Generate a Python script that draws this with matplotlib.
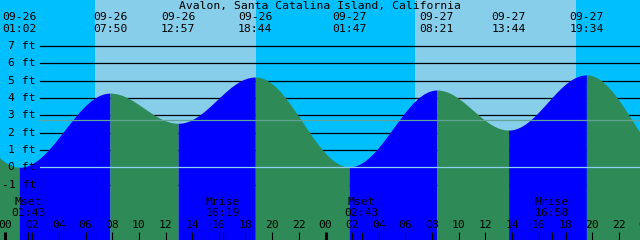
import numpy as np
import matplotlib
matplotlib.use("Agg")
import matplotlib.pyplot as plt

# ---------------- data ----------------
title = "Avalon, Santa Catalina Island, California"
# tide extremes (first and last lie just outside the visible window)
ext_dates = ["09-25", "09-26", "09-26", "09-26", "09-26", "09-27", "09-27", "09-27", "09-27", "09-28"]
ext_times = ["18:20", "01:02", "07:50", "12:57", "18:44", "01:47", "08:21", "13:44", "19:34", "02:35"]
ext_heights = [4.9, 0.0, 4.28, 2.54, 5.21, 0.03, 4.46, 2.15, 5.33, -0.1]

sun_rise = ["09-26 06:45", "09-27 06:45"]
sun_set = ["09-26 18:45", "09-27 18:45"]

moon_names = ["Mset", "Mrise", "Mset", "Mrise"]
moon_dates = ["09-26", "09-26", "09-27", "09-27"]
moon_times = ["01:43", "16:19", "02:43", "16:58"]

levels = [-1, 0, 1, 2, 3, 4, 5, 6, 7]
datum_level = 0
mean_level = 2.73
hour_ticks = list(range(0, 50, 2))

# ---------------- helpers ----------------
def to_hours(date, time):
    day = int(date.split("-")[1]) - 26
    h, m = time.split(":")
    return day * 24 + int(h) + int(m) / 60.0

ext_t = [to_hours(d, t) for d, t in zip(ext_dates, ext_times)]
rise_t = [to_hours(*s.split()) for s in sun_rise]
set_t = [to_hours(*s.split()) for s in sun_set]
moon_t = [to_hours(d, t) for d, t in zip(moon_dates, moon_times)]

# colours
NIGHT = "#00BFFF"
DAY = "#87CEEB"
RISE = "#0000FF"
FALL = "#2E8B57"
DATUM_C = "#8CD2F0"
MEAN_C = "#62A397"

W, H = 640, 240
X0 = -0.4125
X1 = X0 + 48.0
PX_FT = 17.33
ZERO_PX = 167.3
Y_TOP = ZERO_PX / PX_FT
Y_BOT = -(H - ZERO_PX) / PX_FT

fig = plt.figure(figsize=(6.4, 2.4), dpi=100)
ax = fig.add_axes([0, 0, 1, 1])
ax.set_xlim(X0, X1)
ax.set_ylim(Y_BOT, Y_TOP)
ax.axis("off")
xt = ax.get_xaxis_transform()   # x data, y axes
yt = ax.get_yaxis_transform()   # x axes, y data

# sky
ax.axvspan(X0, X1, color=NIGHT, lw=0, zorder=0)
for r, s in zip(rise_t, set_t):
    ax.axvspan(r, s, color=DAY, lw=0, zorder=0.5)

# grid lines (behind water)
for lv in levels:
    if lv == datum_level:
        continue
    ax.axhline(lv, xmin=40 / W, xmax=1, color="black", lw=0.9, zorder=1)

# water
for i in range(len(ext_t) - 1):
    t0, t1 = ext_t[i], ext_t[i + 1]
    h0, h1 = ext_heights[i], ext_heights[i + 1]
    tt = np.linspace(t0, t1, 300)
    hh = h1 + (h0 - h1) * (1 + np.cos(np.pi * (tt - t0) / (t1 - t0))) / 2
    ax.fill_between(tt, hh, Y_BOT - 1, color=RISE if h1 > h0 else FALL,
                    lw=0, zorder=2)

# datum and mean lines
ax.axhline(datum_level, xmin=40 / W, xmax=1, color=DATUM_C, lw=0.9, zorder=3)
ax.axhline(mean_level, xmin=40 / W, xmax=1, color=MEAN_C, lw=0.9, zorder=3)

font = dict(family="DejaVu Sans Mono", size=8.2, color="black", zorder=5)

# title
ax.text(0.5, 1 - 5.5 / H, title, transform=ax.transAxes, ha="center", va="center", **font)

# extreme labels
for t, d, tm in zip(ext_t, ext_dates, ext_times):
    if X0 - 1 < t < X1 + 1:
        ax.text(t, 1 - 17.5 / H, d, transform=xt, ha="center", va="center", **font)
        ax.text(t, 1 - 29 / H, tm, transform=xt, ha="center", va="center", **font)

# level labels
for lv in levels:
    ax.text(36 / W, lv, f"{lv} ft", transform=yt, ha="right", va="center", **font)

# hour ticks & labels
for hr in hour_ticks:
    lab = f"{hr % 24:02d}"
    ax.text(hr, 1 - 225 / H, lab, transform=xt, ha="center", va="center", **font)
    lw = 2.2 if hr % 24 == 0 else 0.8
    ax.vlines(hr, 0, 8 / H, transform=xt, color="black", lw=lw, zorder=5)

# moon events
for t, n, tm in zip(moon_t, moon_names, moon_times):
    ax.text(t, 1 - 202 / H, n, transform=xt, ha="center", va="center", **font)
    ax.text(t, 1 - 213.5 / H, tm, transform=xt, ha="center", va="center", **font)
    ax.vlines(t, 0, 8 / H, transform=xt, color="black", lw=0.8, zorder=5)

fig.savefig("out.png", dpi=100)
